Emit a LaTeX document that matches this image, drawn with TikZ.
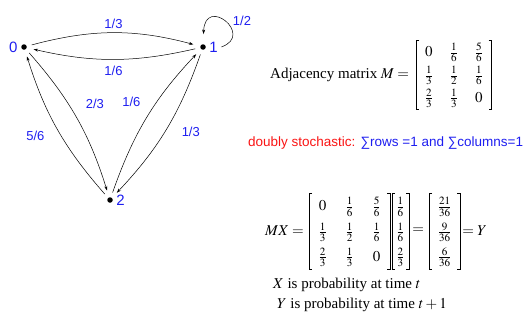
\documentclass[tikz,border=0pt]{standalone}
\usepackage{amsmath}
\usepackage{mathptmx}
\usepackage[no-math]{fontspec}
\setmainfont{Liberation Serif}
\newfontfamily\labelsf{Liberation Sans}
\usetikzlibrary{arrows.meta, positioning}

\definecolor{labelblue}{RGB}{30,30,240}
\definecolor{notered}{RGB}{250,20,20}

\tikzset{
    dot/.style={circle, fill=black, inner sep=0pt, minimum size=5.5pt},
    numlabel/.style={text=labelblue, font=\labelsf\fontsize{15}{18}\selectfont},
    prob/.style={text=labelblue, font=\labelsf\fontsize{13}{15}\selectfont, inner sep=4pt},
    trans/.style={-{Stealth[length=4.5pt, width=3pt]}, line width=0.5pt, shorten >=7pt, shorten <=5pt},
    eqn/.style={inner sep=0pt, font=\fontsize{15}{18}\selectfont},
    bracket/.style={line width=0.6pt}
}

% square brackets round a matrix node
\newcommand{\matbrackets}[1]{
    \draw[bracket] ([xshift=3pt]#1.north west) -- (#1.north west) -- (#1.south west) -- ([xshift=3pt]#1.south west);
    \draw[bracket] ([xshift=-3pt]#1.north east) -- (#1.north east) -- (#1.south east) -- ([xshift=-3pt]#1.south east);
}

\begin{document}
\begin{tikzpicture}[x=1pt, y=-1pt]
    \useasboundingbox (0,0) rectangle (523,324);

    % states of the chain
    \node[dot, label={[numlabel]left:0}] (n0) at (24,47) {};
    \node[dot, label={[numlabel, name=l1]right:1}] (n1) at (203,47) {};
    \node[dot, label={[numlabel]right:2}] (n2) at (110,200) {};

    % transitions
    \draw[trans] (n0) to[bend left=15] node[prob, auto, pos=0.5] {1/3} (n1);
    \draw[trans] (n1) to[bend left=13] node[prob, auto, pos=0.5, inner sep=7pt] {1/6} (n0);
    \draw[trans] (n0) to[bend left=12] node[prob, auto, pos=0.5, inner sep=9pt] {2/3} (n2);
    \draw[trans] (n2) to[bend left=12] node[prob, auto, pos=0.55, inner sep=9pt] {5/6} (n0);
    \draw[trans] (n2) to[bend left=12] node[prob, auto, pos=0.52, inner sep=8pt] {1/6} (n1);
    \draw[trans] (n1) to[bend left=12] node[prob, auto, pos=0.42, inner sep=9pt] {1/3} (n2);
    \draw[trans, shorten <=0pt, shorten >=10pt] (l1.east) .. controls (255,35) and (205,-5) .. (n1)
        node[prob, pos=0.38, anchor=south west, inner sep=2pt] {1/2};

    % adjacency matrix
    \node[eqn, anchor=west] (adjtext) at (270,75) {Adjacency matrix $M =$};
    \node[eqn, right=7pt of adjtext] (adjM) {$\arraycolsep=8.5pt\def\arraystretch{1.27}
        \begin{array}{ccc} 0 & \frac16 & \frac56 \\ \frac13 & \frac12 & \frac16 \\ \frac23 & \frac13 & 0 \end{array}$};
    \matbrackets{adjM}

    \node[anchor=west, inner sep=0pt, font=\labelsf\fontsize{13.5}{16}\selectfont] (note) at (248,143)
        {\textcolor{notered}{doubly stochastic:} \textcolor{labelblue}{∑rows =1 and ∑columns=1}};

    % one step of the chain
    \node[eqn, anchor=west] (mx) at (265,231) {$MX =$};
    \node[eqn, right=5pt of mx] (prodM) {$\arraycolsep=9.5pt\def\arraystretch{1.4}
        \begin{array}{ccc} 0 & \frac16 & \frac56 \\ \frac13 & \frac12 & \frac16 \\ \frac23 & \frac13 & 0 \end{array}$};
    \node[eqn, right=1.5pt of prodM] (vecX) {$\arraycolsep=4.5pt\def\arraystretch{1.4}
        \begin{array}{c} \frac16 \\ \frac16 \\ \frac23 \end{array}$};
    \node[eqn, right=3pt of vecX] (eqA) {$=$};
    \node[eqn, right=5pt of eqA] (vecY) {$\arraycolsep=8.5pt\def\arraystretch{1.4}
        \begin{array}{c} \frac{21}{36} \\ \frac{9}{36} \\ \frac{6}{36} \end{array}$};
    \node[eqn, right=2pt of vecY] (eqB) {$= Y$};
    \matbrackets{prodM}
    \matbrackets{vecX}
    \matbrackets{vecY}

    \node[eqn, anchor=west] (xt) at (273,285) {$X$ is probability at time $t$};
    \node[eqn, anchor=west] (yt) at (277,305) {$Y$ is probability at time $t+1$};
\end{tikzpicture}
\end{document}
